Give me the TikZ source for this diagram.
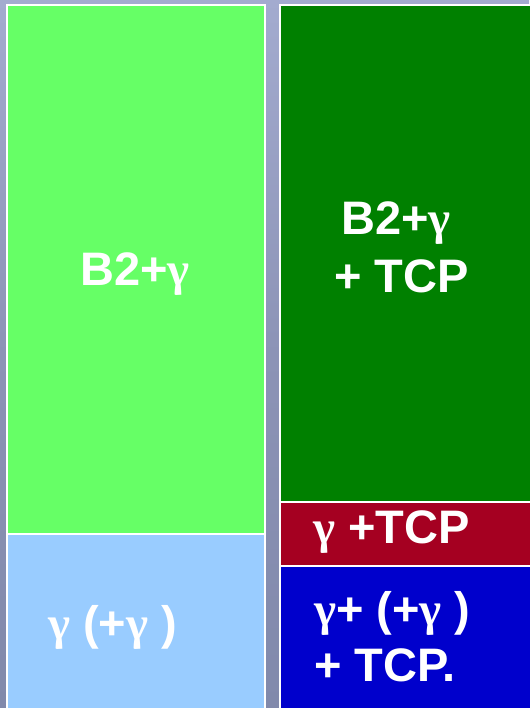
\documentclass[tikz,border=0pt]{standalone}
\usepackage{fontspec}
\setmainfont{Liberation Sans}
\newfontfamily\greekfont{Liberation Serif}
\definecolor{bgtop}{HTML}{A3ABCF}
\definecolor{bgmid}{HTML}{8C93B6}
\definecolor{bgbot}{HTML}{8189AB}
\definecolor{lgreen}{HTML}{66FF66}
\definecolor{lblue}{HTML}{99CCFF}
\definecolor{dgreen}{HTML}{008000}
\definecolor{dred}{HTML}{A50021}
\definecolor{dblue}{HTML}{0000CC}
% the gamma comes from a serif face, the rest of each label is bold sans
\newcommand{\gam}{{\greekfont γ}}
\tikzset{
  panel/.style={draw=white, line width=2.5pt, inner sep=0pt, outer sep=0pt},
  lbl/.style={anchor=base west, inner sep=0pt, text=white,
              font=\fontsize{47}{50}\selectfont\bfseries},
}
\begin{document}
\begin{tikzpicture}[x=1pt, y=-1pt]
  \useasboundingbox (0,0) rectangle (529,708);
  % backdrop
  \shade[top color=bgtop, bottom color=bgbot, middle color=bgmid] (0,0) rectangle (529,708);

  % left column
  \path[panel, fill=lgreen] (7,5) rectangle (265,534);
  \path[panel, fill=lblue] (7,534) rectangle (265,712);

  % right column
  \path[panel, fill=dgreen] (280,5) rectangle (533,502);
  \path[panel, fill=dred] (280,502) rectangle (533,566);
  \path[panel, fill=dblue] (280,566) rectangle (533,712);

  % labels
  \node[lbl] (t1) at (80,285) {B2+\gam};
  \node[lbl] (t2) at (48,639) {\gam\ (+\gam\ )};
  \node[lbl] (t3) at (341,235) {B2+\gam};
  \node[lbl] (t4) at (334,292) {+ TCP};
  \node[lbl] (t5) at (313,543) {\gam\ +TCP};
  \node[lbl] (t6) at (314,625) {\gam+ (+\gam\ )};
  \node[lbl] (t7) at (314,681) {+ TCP.};
\end{tikzpicture}
\end{document}
